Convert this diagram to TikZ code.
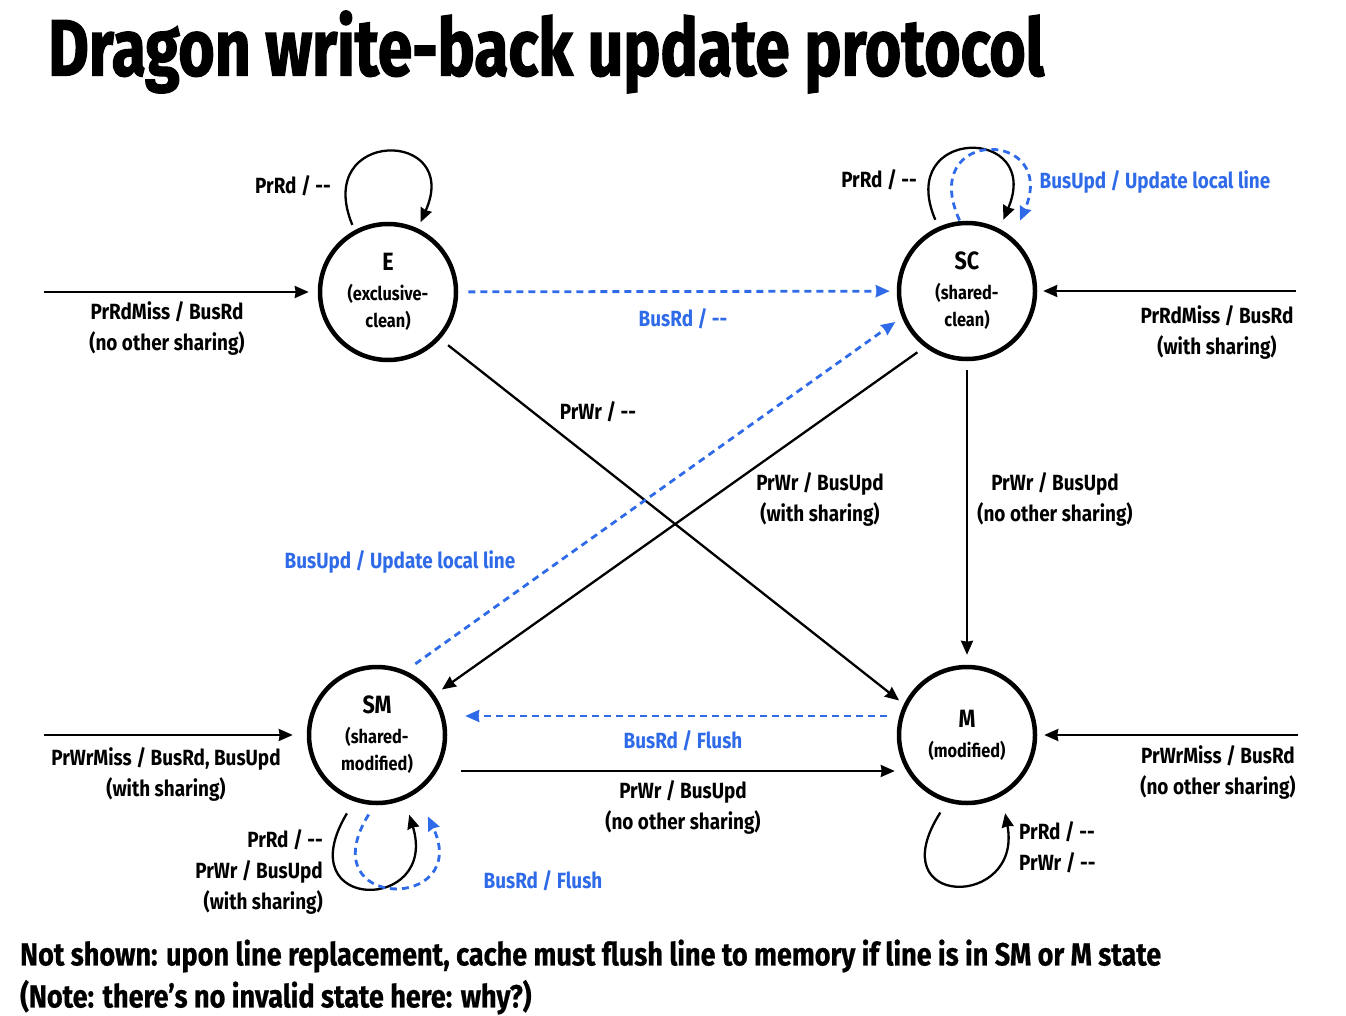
\documentclass[tikz,border=0pt]{standalone}
\usepackage{fontspec}
\setmainfont{Fira Sans}[FakeStretch=0.86]
\newfontfamily\titlefont{Fira Sans}[FakeStretch=0.78,FakeBold=1.5]
\newfontfamily\notefont{Fira Sans}[FakeStretch=0.845,FakeBold=0.6]
\usepackage{tikz}
\usetikzlibrary{calc,arrows.meta}
\definecolor{busblue}{HTML}{2F6BE8}

\newcommand{\stname}[1]{{\fontsize{25}{27}\selectfont #1}}
\newcommand{\nop}{-{}-}

\tikzset{
    state/.style={circle,draw,line width=4.5pt,minimum size=136pt,inner sep=0pt,align=center,font=\bfseries\fontsize{19}{27}\selectfont},
    trans/.style={line width=2.3pt,black,-{Stealth[length=14pt,width=12pt,inset=1pt]}},
    bus/.style={line width=2.8pt,busblue,dash pattern=on 7pt off 5pt,-{Stealth[length=14pt,width=12pt,inset=1pt]}},
    lbl/.style={font=\bfseries\fontsize{22}{31}\selectfont,align=center,inner sep=0pt},
    buslbl/.style={lbl,text=busblue}
}

\begin{document}
\begin{tikzpicture}[x=1pt,y=-1pt]
    \useasboundingbox (0,0) rectangle (1346,1016);

    \node[anchor=west,inner sep=0pt,font=\titlefont\bfseries\fontsize{80}{80}\selectfont] (title) at (48,52) {Dragon write-back update protocol};

    % states
    \node[state] (E) at (388,292) {\stname{E}\\[3pt](exclusive-\\clean)};
    \node[state] (SC) at (967,291) {\stname{SC}\\[3pt](shared-\\clean)};
    \node[state] (SM) at (377,735) {\stname{SM}\\[3pt](shared-\\modified)};
    \node[state] (M) at (967,735) {\stname{M}\\[3pt](modified)};

    \coordinate (inE) at (44,292);
    \coordinate (inSC) at (1296,291);
    \coordinate (inSM) at (44,735);
    \coordinate (inM) at (1298,735);

    % misses coming in
    \draw[trans,shorten >=9pt] (inE) -- (E);
    \draw[trans,shorten >=6pt] (inSC) -- (SC);
    \draw[trans,shorten >=14pt] (inSM) -- (SM);
    \draw[trans,shorten >=7pt] (inM) -- (M);
    \node[lbl] (lE) at (167,328) {PrRdMiss / BusRd\\(no other sharing)};
    \node[lbl] (lSC) at (1217,332) {PrRdMiss / BusRd\\(with sharing)};
    \node[lbl] (lSM) at (166,774) {PrWrMiss / BusRd, BusUpd\\(with sharing)};
    \node[lbl] (lM) at (1218,772) {PrWrMiss / BusRd\\(no other sharing)};

    % self loops
    \draw[trans] ($(E)+(118:76pt)$) .. controls +(-40,-97) and +(42,-94) .. ($(E)+(65:77pt)$);
    \node[lbl] (lEloop) at (293,186) {PrRd / \nop};
    \draw[trans] ($(SC)+(114:78pt)$) .. controls +(-40,-94) and +(40,-94) .. ($(SC)+(63:80pt)$);
    \draw[bus] ($(SC)+(96:71pt)$) .. controls +(-43,-94) and +(40,-92) .. ($(SC)+(53:88pt)$);
    \node[lbl] (lSCloop) at (879,180) {PrRd / \nop};
    \node[buslbl] (lSCbus) at (1155,182) {BusUpd / Update local line};
    \draw[trans] ($(SM)+(249:84pt)$) .. controls +(-60,100) and +(30,98) .. ($(SM)+(292:86pt)$);
    \draw[bus] ($(SM)+(264:80pt)$) .. controls +(-60,97) and +(45,95) .. ($(SM)+(302:96pt)$);
    \node[lbl,anchor=east,align=right] (lSMloop) at (323,872) {PrRd / \nop\\PrWr / BusUpd\\(with sharing)};
    \node[buslbl] (lSMbus) at (543,881) {BusRd / Flush};
    \draw[trans] ($(M)+(251:82pt)$) .. controls +(-62,97) and +(18,96) .. ($(M)+(296:87pt)$);
    \node[lbl,anchor=west,align=left] (lMloop) at (1019,847) {PrRd / \nop\\PrWr / \nop};

    % transitions between states
    \draw[bus,shorten <=10pt,shorten >=7pt] (E) -- (SC);
    \node[buslbl] (lEtoSC) at (683,319) {BusRd / \nop};
    \draw[trans,shorten <=10pt,shorten >=6pt] (E.-42) -- (M.154);
    \node[lbl] (lEtoM) at (598,412) {PrWr / \nop};
    \draw[trans,shorten <=9pt,shorten >=9pt] (SC.233) -- (SM.35);
    \node[lbl] (lSCtoSM) at (820,499) {PrWr / BusUpd\\(with sharing)};
    \draw[bus,shorten <=12pt,shorten >=8pt] (SM.66) -- (SC.202);
    \node[buslbl] (lSMtoSC) at (400,562) {BusUpd / Update local line};
    \draw[trans,shorten <=9pt,shorten >=10pt] (SC) -- (M);
    \node[lbl] (lSCtoM) at (1055,499) {PrWr / BusUpd\\(no other sharing)};
    \draw[bus,shorten <=10pt,shorten >=18pt] ([yshift=19pt]M.west) -- ([yshift=19pt]SM.east);
    \node[buslbl] (lMtoSM) at (683,741) {BusRd / Flush};
    \draw[trans,shorten <=14pt,shorten >=2pt] ([yshift=-36pt]SM.east) -- ([yshift=-36pt]M.west);
    \node[lbl] (lSMtoM) at (683,807) {PrWr / BusUpd\\(no other sharing)};

    % footnote
    \node[anchor=west,align=left,inner sep=0pt,font=\notefont\bfseries\fontsize{32}{42}\selectfont] (note) at (20,977) {Not shown: upon line replacement, cache must flush line to memory if line is in SM or M state\\(Note: there’s no invalid state here: why?)};
\end{tikzpicture}
\end{document}
